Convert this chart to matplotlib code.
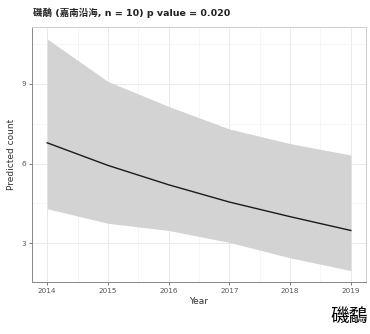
import matplotlib
matplotlib.use("Agg")
import matplotlib.pyplot as plt
from matplotlib.ticker import MultipleLocator

plt.rcParams['font.family'] = ['DejaVu Sans', 'Noto Sans CJK TC']

# predicted counts per year with confidence band
years = [2014, 2015, 2016, 2017, 2018, 2019]
fit = [6.78, 5.93, 5.20, 4.55, 4.00, 3.48]
upper = [10.69, 9.09, 8.15, 7.30, 6.75, 6.32]
lower = [4.30, 3.75, 3.48, 3.03, 2.45, 1.97]

title = "磯鷸 (嘉南沿海, n = 10) p value = 0.020"
species = "磯鷸"

fig = plt.figure(figsize=(3.70, 3.34), dpi=100)
ax = fig.add_axes([32 / 370, 52 / 334, 334 / 370, 255 / 334])

ax.fill_between(years, lower, upper, color="#d3d3d3", linewidth=0, zorder=2)
ax.plot(years, fit, color="#1a1a1a", linewidth=1.0, zorder=3)

ax.set_xlim(2013.75, 2019.25)
ax.set_ylim(1.54, 11.14)
ax.xaxis.set_major_locator(MultipleLocator(1))
ax.xaxis.set_minor_locator(MultipleLocator(0.5))
ax.set_yticks([3, 6, 9])
ax.yaxis.set_minor_locator(MultipleLocator(1.5))

ax.grid(which="major", color="#e6e6e6", linewidth=0.6, zorder=0)
ax.grid(which="minor", color="#f2f2f2", linewidth=0.5, zorder=0)
ax.set_axisbelow(True)

ax.tick_params(which="major", length=2.5, width=0.6, color="#666666",
               labelsize=5.2, labelcolor="#555555", pad=2)
ax.tick_params(which="minor", length=0)

for side in ["left", "bottom"]:
    ax.spines[side].set_color("#888888")
    ax.spines[side].set_linewidth(0.7)
for side in ["top", "right"]:
    ax.spines[side].set_color("#cccccc")
    ax.spines[side].set_linewidth(0.7)

ax.set_xlabel("Year", fontsize=6.5, color="#333333", labelpad=2)
ax.set_ylabel("Predicted count", fontsize=6.5, color="#333333", labelpad=4)

fig.text(33 / 370, 1 - 13 / 334, title, fontsize=6.8, fontweight="bold",
         color="#222222", va="center", ha="left")
fig.text(330 / 370, 1 - 316 / 334, species, fontsize=13.5, color="black",
         va="center", ha="left", family=['Noto Sans CJK TC'])

fig.savefig("out.png", dpi=100)
